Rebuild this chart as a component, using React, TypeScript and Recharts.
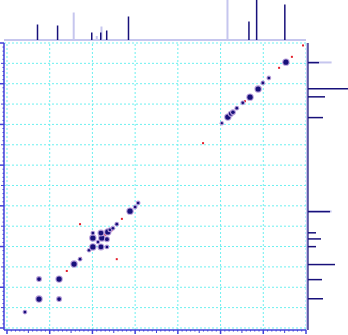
import { ScatterChart, Scatter, XAxis, YAxis, ReferenceLine, BarChart, Bar } from 'recharts';

const GRID = '#6cf0f0';
const AXIS = '#4040d8';
const NAVY = '#17107a';
const HALO = '#b49ad8';
const LAVENDER = '#c6c6ee';
const RED = '#e4202c';

// ppm ranges of the two dimensions (F2 across, F1 down)
const f2Domain = [1, 8.07];
const f1Domain = [1, 8.05];
const f2GridTicks = [1, 2, 3, 4, 5, 6, 7, 8];
const f1GridTicks = [1, 1.5, 2, 2.5, 3, 3.5, 4, 4.5, 5, 5.5, 6, 6.5, 7, 7.5, 8];
const minorTicks = Array.from({ length: 71 }, (_, i) => Math.round(10 + i) / 10);

// cross / diagonal peaks: f2, f1 in ppm, r = blob radius
const crossPeaks = [
  { f2: 7.58, f1: 7.61, r: 1.3 },
  { f2: 7.25, f1: 7.29, r: 2.6 },
  { f2: 6.78, f1: 7.29, r: 1.9 },
  { f2: 7.25, f1: 6.8, r: 1.9 },
  { f2: 6.78, f1: 6.8, r: 2.6 },
  { f2: 6.43, f1: 6.43, r: 2.6 },
  { f2: 6.29, f1: 6.31, r: 1.3 },
  { f2: 6.08, f1: 6.09, r: 1.2 },
  { f2: 5.99, f1: 6.01, r: 2.6 },
  { f2: 5.8, f1: 6.01, r: 2.4 },
  { f2: 5.66, f1: 6.01, r: 1.3 },
  { f2: 5.99, f1: 5.79, r: 2.6 },
  { f2: 5.78, f1: 5.79, r: 2.6 },
  { f2: 5.66, f1: 5.82, r: 1.9 },
  { f2: 5.99, f1: 5.67, r: 1.3 },
  { f2: 5.8, f1: 5.67, r: 2.4 },
  { f2: 5.64, f1: 5.64, r: 2.6 },
  { f2: 5.59, f1: 5.59, r: 1.4 },
  { f2: 5.52, f1: 5.55, r: 1.3 },
  { f2: 5.43, f1: 5.45, r: 1.3 },
  { f2: 5.87, f1: 5.89, r: 1.2 },
  { f2: 5.12, f1: 5.13, r: 2.6 },
  { f2: 5.0, f1: 5.03, r: 1.3 },
  { f2: 4.93, f1: 4.93, r: 1.3 },
  { f2: 2.97, f1: 2.97, r: 1.1 },
  { f2: 2.83, f1: 2.82, r: 2.6 },
  { f2: 2.76, f1: 2.74, r: 2.0 },
  { f2: 2.71, f1: 2.7, r: 1.8 },
  { f2: 2.62, f1: 2.6, r: 1.3 },
  { f2: 2.48, f1: 2.47, r: 1.3 },
  { f2: 2.31, f1: 2.33, r: 2.6 },
  { f2: 2.12, f1: 2.13, r: 2.6 },
  { f2: 2.01, f1: 1.98, r: 1.3 },
  { f2: 1.87, f1: 1.86, r: 1.3 },
  { f2: 1.47, f1: 1.47, r: 2.6 },
];

// negative (red) contours
const redPeaks = [
  { f2: 6.6, f1: 6.6 },
  { f2: 6.27, f1: 6.28 },
  { f2: 6.29, f1: 5.45 },
  { f2: 5.43, f1: 6.31 },
  { f2: 5.31, f1: 5.32 },
  { f2: 5.87, f1: 5.9 },
  { f2: 5.75, f1: 5.77 },
  { f2: 5.7, f1: 5.71 },
  { f2: 5.55, f1: 5.6 },
  { f2: 3.41, f1: 3.46 },
  { f2: 2.43, f1: 2.43 },
  { f2: 1.63, f1: 1.61 },
  { f2: 1.33, f1: 1.34 },
  { f2: 1.07, f1: 1.06 },
];

// 1D projections: ppm and height (px-like units)
const topDark = [
  { ppm: 7.28, h: 15.5 },
  { ppm: 6.81, h: 14.5 },
  { ppm: 6.01, h: 7.5 },
  { ppm: 5.8, h: 7.5 },
  { ppm: 5.66, h: 9.5 },
  { ppm: 5.15, h: 23.5 },
  { ppm: 2.33, h: 18.5 },
  { ppm: 2.15, h: 45 },
  { ppm: 1.49, h: 35.5 },
];
const topLight = [
  { ppm: 6.43, h: 27.5 },
  { ppm: 5.89, h: 4 },
  { ppm: 5.78, h: 13.5 },
  { ppm: 2.83, h: 45 },
];
const sideDark = [
  { ppm: 1.49, h: 11 },
  { ppm: 2.13, h: 45 },
  { ppm: 2.33, h: 17 },
  { ppm: 2.84, h: 15 },
  { ppm: 5.15, h: 22 },
  { ppm: 5.67, h: 8 },
  { ppm: 5.82, h: 13 },
  { ppm: 6.01, h: 8 },
  { ppm: 6.45, h: 27 },
  { ppm: 6.82, h: 14 },
  { ppm: 7.29, h: 15 },
];
const sideLight = [
  { ppm: 1.49, h: 24 },
  { ppm: 5.15, h: 24 },
];

function tickLen(v: number) {
  if (Math.abs(v - Math.round(v)) < 1e-6) return 4;
  if (Math.abs(v * 2 - Math.round(v * 2)) < 1e-6) return 3;
  return 1.5;
}

const LeftTick = (props: any) => {
  const { x, y, payload } = props;
  const len = tickLen(payload.value);
  return <line x1={x} x2={x - len} y1={y} y2={y} stroke={AXIS} strokeWidth={len === 4 ? 1.5 : 1} />;
};

const BottomTick = (props: any) => {
  const { x, y, payload } = props;
  const len = tickLen(payload.value);
  return <line x1={x} x2={x} y1={y} y2={y + len} stroke={AXIS} strokeWidth={len === 4 ? 1.5 : 1} />;
};

const Blob = (props: any) => {
  const { cx, cy, payload } = props;
  return (
    <g>
      <circle cx={cx} cy={cy} r={payload.r + 1.1} fill={HALO} />
      <circle cx={cx} cy={cy} r={payload.r} fill={NAVY} />
    </g>
  );
};

const RedDot = (props: any) => {
  const { cx, cy } = props;
  return <rect x={cx - 1} y={cy - 1} width={2} height={2} fill={RED} />;
};

export default function App() {
  return (
    <div style={{ position: 'absolute', left: 0, top: 0, width: 348, height: 335, background: '#fff', overflow: 'hidden' }}>
      <div style={{ position: 'absolute', left: 0, top: 0 }}>
        <ScatterChart width={348} height={335} margin={{ top: 43, right: 42, bottom: 0, left: 0 }}>
          <XAxis type="number" dataKey="f2" domain={f2Domain} reversed allowDataOverflow ticks={minorTicks} interval={0}
            height={5} tickSize={0} tickMargin={0} tickLine={false} tick={BottomTick} axisLine={{ stroke: AXIS, strokeWidth: 1.5 }} />
          <YAxis type="number" dataKey="f1" domain={f1Domain} reversed allowDataOverflow ticks={minorTicks} interval={0}
            width={4} tickSize={0} tickMargin={0} tickLine={false} tick={LeftTick} axisLine={{ stroke: AXIS, strokeWidth: 1.5 }} />
          {f2GridTicks.map((t) => (
            <ReferenceLine key={`gx-${t}`} x={t} stroke={GRID} strokeDasharray="2 2" />
          ))}
          {f1GridTicks.map((t) => (
            <ReferenceLine key={`gy-${t}`} y={t} stroke={GRID} strokeDasharray="2 2" />
          ))}
          <Scatter data={redPeaks} shape={RedDot} isAnimationActive={false} />
          <Scatter data={crossPeaks} shape={Blob} isAnimationActive={false} />
        </ScatterChart>
      </div>

      <div style={{ position: 'absolute', left: 0, top: 0 }}>
        <BarChart width={348} height={41} data={topLight} margin={{ top: 0, right: 42, bottom: 1, left: 4 }}>
          <XAxis type="number" dataKey="ppm" domain={f2Domain} reversed allowDataOverflow hide />
          <YAxis type="number" domain={[0, 40]} hide allowDataOverflow />
          <ReferenceLine y={0} stroke={LAVENDER} strokeWidth={2} ifOverflow="visible" />
          <Bar dataKey="h" fill={LAVENDER} barSize={2} isAnimationActive={false} />
        </BarChart>
      </div>
      <div style={{ position: 'absolute', left: 0, top: 0 }}>
        <BarChart width={348} height={41} data={topDark} margin={{ top: 0, right: 42, bottom: 1, left: 4 }}>
          <XAxis type="number" dataKey="ppm" domain={f2Domain} reversed allowDataOverflow hide />
          <YAxis type="number" domain={[0, 40]} hide allowDataOverflow />
          <Bar dataKey="h" fill={NAVY} barSize={1.5} isAnimationActive={false} />
        </BarChart>
      </div>

      <div style={{ position: 'absolute', left: 306, top: 0 }}>
        <BarChart layout="vertical" width={42} height={335} data={sideLight} margin={{ top: 43, right: 0, bottom: 5, left: 0 }}>
          <YAxis type="number" dataKey="ppm" domain={f1Domain} allowDataOverflow width={1}
            tick={false} tickLine={false} axisLine={{ stroke: LAVENDER, strokeWidth: 2 }} />
          <XAxis type="number" domain={[0, 40]} hide allowDataOverflow />
          <Bar dataKey="h" fill={LAVENDER} barSize={2} isAnimationActive={false} />
        </BarChart>
      </div>
      <div style={{ position: 'absolute', left: 306, top: 0 }}>
        <BarChart layout="vertical" width={42} height={335} data={sideDark} margin={{ top: 43, right: 0, bottom: 5, left: 0 }}>
          <YAxis type="number" dataKey="ppm" domain={f1Domain} allowDataOverflow width={2}
            tick={false} tickLine={false} axisLine={{ stroke: NAVY, strokeWidth: 1.2 }} />
          <XAxis type="number" domain={[0, 40]} hide allowDataOverflow />
          <Bar dataKey="h" fill={NAVY} barSize={1.5} isAnimationActive={false} />
        </BarChart>
      </div>
    </div>
  );
}
